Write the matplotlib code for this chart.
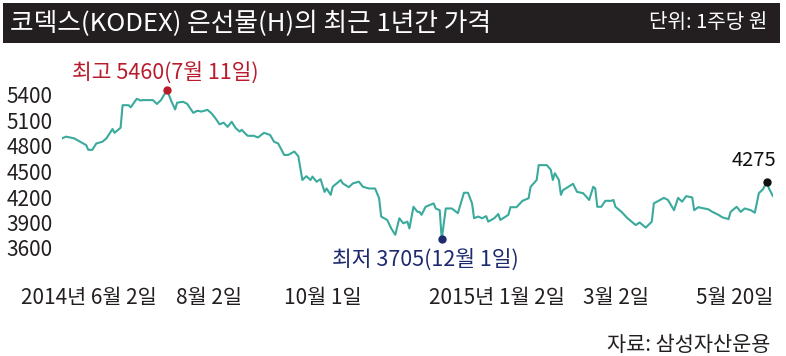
import matplotlib
matplotlib.use("Agg")
import matplotlib.pyplot as plt
from matplotlib.patches import Rectangle

plt.rcParams['font.family'] = ['Noto Sans CJK KR', 'DejaVu Sans']

# ---------------- data ----------------
days = [0, 2, 6, 9, 12, 13, 15, 17, 20, 22, 25, 26, 29, 30, 33, 34, 37, 39, 40, 43,
        45, 47, 49, 52, 54, 56, 57, 60, 62, 65, 67, 69, 72, 74, 76, 78, 80, 82, 84, 86,
        88, 89, 91, 92, 95, 97, 100, 103, 105, 107, 110, 112, 115, 117, 119, 121, 123, 124, 126, 128,
        130, 131, 133, 134, 138, 139, 142, 144, 147, 149, 152, 155, 157, 158, 161, 163, 165, 167, 169, 171,
        172, 174, 176, 177, 178, 180, 184, 185, 187, 188, 190, 193, 196, 199, 201, 203, 204, 206, 208, 210,
        211, 214, 216, 217, 221, 222, 225, 228, 231, 232, 235, 236, 240, 242, 243, 244, 246, 247, 248, 253,
        255, 258, 261, 263, 264, 265, 267, 269, 272, 273, 274, 277, 280, 284, 286, 289, 292, 293, 298, 300,
        303, 305, 307, 309, 312, 313, 315, 320, 322, 325, 327, 330, 331, 334, 336, 338, 341, 343, 345, 347,
        349, 350, 352]
prices = [4890, 4910, 4890, 4850, 4810, 4755, 4755, 4830, 4850, 4890, 5000, 4955, 5015, 5280, 5280, 5255, 5355, 5335, 5340, 5340,
          5340, 5295, 5340, 5460, 5335, 5230, 5310, 5320, 5295, 5190, 5215, 5205, 5225, 5185, 5125, 5055, 5075, 5025, 5085, 5010,
          4970, 4990, 4940, 4920, 4920, 4900, 4955, 4930, 4850, 4830, 4695, 4695, 4735, 4680, 4400, 4445, 4400, 4440, 4380, 4410,
          4260, 4300, 4225, 4320, 4400, 4360, 4315, 4360, 4380, 4320, 4300, 4300, 4185, 3970, 3930, 3830, 3755, 3950, 3890, 3910,
          3830, 4085, 4025, 4025, 3990, 4085, 4125, 4065, 4045, 3705, 4065, 4065, 4010, 4250, 4250, 4125, 3950, 3970, 3950, 3975,
          3910, 3950, 4000, 3930, 3990, 4080, 4080, 4155, 4185, 4320, 4400, 4575, 4575, 4520, 4400, 4480, 4400, 4225, 4280, 4355,
          4260, 4245, 4165, 4320, 4300, 4085, 4085, 4155, 4155, 4165, 4085, 4025, 3950, 3870, 3900, 3840, 3910, 4125, 4190, 4165,
          4045, 4190, 4145, 4210, 4195, 4045, 4080, 4055, 4025, 3990, 3960, 3940, 4025, 4085, 4025, 4065, 4045, 4015, 4245, 4290,
          4380, 4300, 4210]

y_ticks = [3600, 3900, 4200, 4500, 4800, 5100, 5400]
x_tick_labels = ['2014년 6월 2일', '8월 2일', '10월 1일', '2015년 1월 2일', '3월 2일', '5월 20일']
x_tick_pos = [13.4, 72.8, 128.9, 215.3, 274.3, 333.2]   # label anchor positions (layout)

title = '코덱스(KODEX) 은선물(H)의 최근 1년간 가격'
unit = '단위: 1주당 원'
source = '자료: 삼성자산운용'
high_label = '최고 5460(7월 11일)'
low_label = '최저 3705(12월 1일)'
last_label = '4275'
high_idx = prices.index(max(prices))
low_idx = prices.index(min(prices))
last_idx = len(prices) - 3

# ---------------- styles ----------------
LINE = '#3aaa9c'
DARK = '#231f20'
RED = '#b81c2c'
NAVY = '#1e2a6e'

W, H = 786, 356
fig = plt.figure(figsize=(W / 100, H / 100), dpi=100)
fig.patch.set_facecolor('white')

# title bar
fig.patches.append(Rectangle((3 / W, 1 - 43 / H), 777 / W, 40 / H,
                             transform=fig.transFigure, facecolor=DARK,
                             edgecolor='none', zorder=0))
fig.text(10 / W, 1 - 23.5 / H, title, color='white', fontsize=18.5,
         ha='left', va='center', fontweight='medium')
fig.text(767 / W, 1 - 23 / H, unit, color='white', fontsize=14.5,
         ha='right', va='center')
fig.text(770 / W, 1 - 345 / H, source, color=DARK, fontsize=15,
         ha='right', va='center')

ax = fig.add_axes([62 / W, 1 - 256.5 / H, 711 / W, 170 / H])
ax.plot(days, prices, color=LINE, lw=1.5, solid_joinstyle='round', zorder=2)
ax.set_xlim(0, 352)
ax.set_ylim(3500, 5500)
for s in ax.spines.values():
    s.set_visible(False)
ax.set_facecolor('none')

ax.set_yticks(y_ticks)
ax.set_yticklabels([str(v) for v in y_ticks], fontsize=15, color=DARK)
ax.tick_params(axis='y', length=0, pad=6.5)
ax.set_xticks(x_tick_pos)
ax.set_xticklabels(x_tick_labels, fontsize=15, color=DARK)
ax.tick_params(axis='x', length=0, pad=22)

# markers and annotations
ax.plot(days[high_idx], prices[high_idx], 'o', color=RED, ms=5, zorder=3, clip_on=False)
ax.annotate(high_label, (days[high_idx], prices[high_idx]), xytext=(-1, 12.5),
            textcoords='offset points', ha='center', va='center', fontsize=15.5,
            color=RED, annotation_clip=False)
ax.plot(days[low_idx], prices[low_idx], 'o', color=NAVY, ms=5, zorder=3, clip_on=False)
ax.annotate(low_label, (days[low_idx], prices[low_idx]), xytext=(-12, -14.5),
            textcoords='offset points', ha='center', va='center', fontsize=15.5,
            color=NAVY, annotation_clip=False)
ax.plot(days[last_idx], prices[last_idx], 'o', color='#111111', ms=5, zorder=3, clip_on=False)
ax.annotate(last_label, (days[last_idx], prices[last_idx]), xytext=(-9.5, 15.5),
            textcoords='offset points', ha='center', va='center', fontsize=14.5,
            color='#111111', annotation_clip=False)

fig.savefig('out.png', dpi=100)
